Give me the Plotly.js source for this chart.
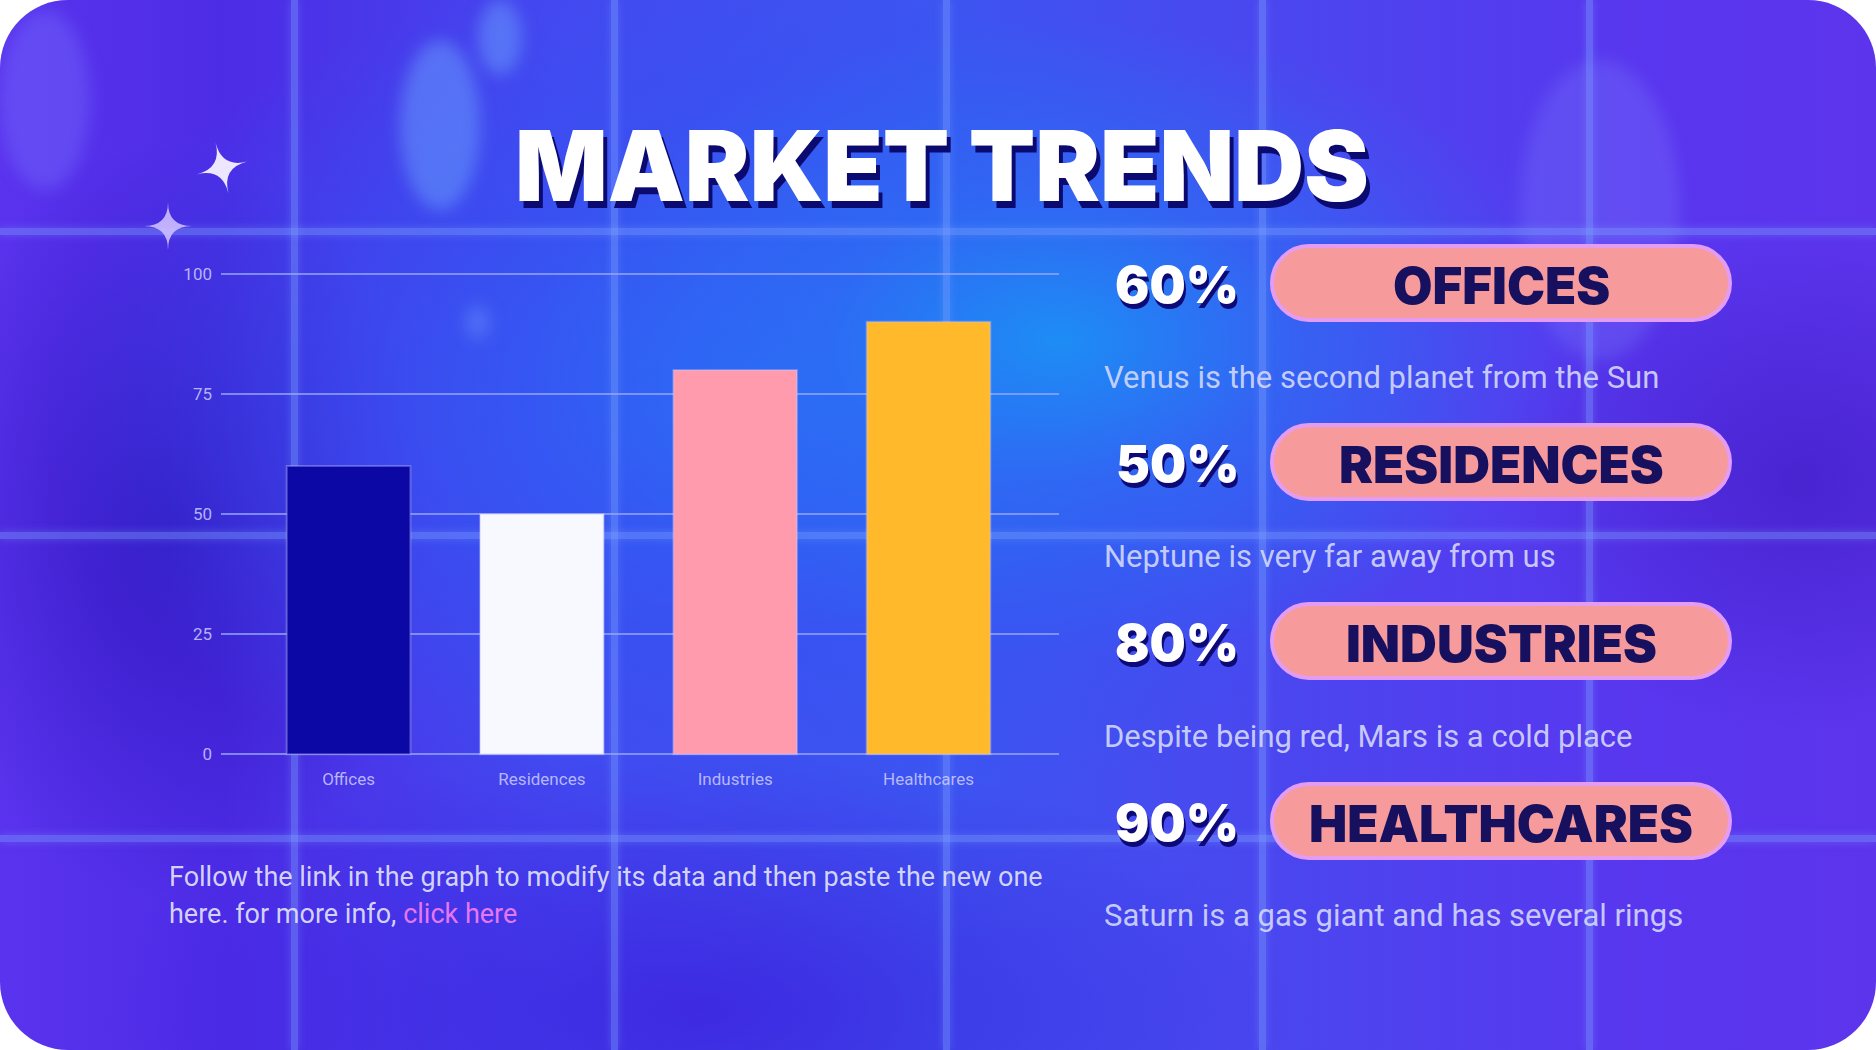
<!DOCTYPE html>
<html>
<head>
<meta charset="utf-8">
<script src="https://cdn.plot.ly/plotly-3.0.1.min.js"></script>
<style>
  html, body { margin:0; padding:0; background:#ffffff; width:1876px; height:1050px; overflow:hidden; }
  #frame {
    position:absolute; left:0; top:0; width:1876px; height:1050px;
    border-radius:68px; overflow:hidden;
    background:
      radial-gradient(ellipse 520px 320px at 1060px 340px, rgba(25,150,245,0.85) 0%, rgba(40,120,245,0.5) 45%, rgba(50,90,240,0) 100%),
      radial-gradient(ellipse 720px 440px at 760px 400px, rgba(45,100,245,0.95) 0%, rgba(50,85,242,0.55) 55%, rgba(60,70,240,0) 100%),
      radial-gradient(ellipse 260px 380px at 170px 520px, rgba(45,20,185,0.75) 0%, rgba(60,30,210,0) 100%),
      radial-gradient(ellipse 300px 250px at 1800px 480px, rgba(60,25,190,0.6) 0%, rgba(80,40,230,0) 100%),
      radial-gradient(ellipse 600px 260px at 700px 1010px, rgba(60,30,220,0.75) 0%, rgba(70,40,230,0) 100%),
      linear-gradient(90deg, #5a33ee 0%, #4d2ce6 12%, #4448f0 30%, #3d55f1 50%, #4c45ef 70%, #5936ef 88%, #5c34ec 100%);
  }
  .blob { position:absolute; border-radius:50%; filter:blur(8px); }
  .vline { position:absolute; top:0; width:7px; height:1050px; background:rgba(125,160,255,0.42); box-shadow:0 0 8px rgba(125,160,255,0.35); }
  .hline { position:absolute; left:0; height:7px; width:1876px; background:rgba(125,160,255,0.42); box-shadow:0 0 8px rgba(125,160,255,0.35); }
  #chart { position:absolute; left:0; top:0; width:1876px; height:1050px; }
</style>
</head>
<body>
<div id="frame">
  <div class="blob" style="left:400px;top:40px;width:80px;height:170px;background:rgba(110,170,255,0.45);"></div>
  <div class="blob" style="left:478px;top:0px;width:44px;height:75px;background:rgba(110,170,255,0.45);"></div>
  <div class="blob" style="left:0px;top:10px;width:90px;height:180px;background:rgba(120,120,255,0.35);"></div>
  <div class="blob" style="left:1520px;top:60px;width:160px;height:300px;background:rgba(130,140,255,0.25);"></div>
  <div class="blob" style="left:465px;top:305px;width:25px;height:35px;background:rgba(120,160,255,0.35);"></div>
  <div class="vline" style="left:291px;"></div>
  <div class="vline" style="left:611px;"></div>
  <div class="vline" style="left:943px;"></div>
  <div class="vline" style="left:1259px;"></div>
  <div class="vline" style="left:1586px;"></div>
  <div class="hline" style="top:228px;"></div>
  <div class="hline" style="top:532px;"></div>
  <div class="hline" style="top:835px;"></div>
</div>
<div id="chart"></div>
<script>
// ---------- data ----------
const categories = ['Offices', 'Residences', 'Industries', 'Healthcares'];
const values = [60, 50, 80, 90];
const barColors = ['#0c08a6', '#f7f9ff', '#ff9bad', '#ffb92b'];
const yTickVals = [0, 25, 50, 75, 100];
const yTickText = ['0', '25', '50', '75', '100'];
const percentLabels = ['60%', '50%', '80%', '90%'];
const pillLabels = ['OFFICES', 'RESIDENCES', 'INDUSTRIES', 'HEALTHCARES'];
const descriptions = [
  'Venus is the second planet from the Sun',
  'Neptune is very far away from us',
  'Despite being red, Mars is a cold place',
  'Saturn is a gas giant and has several rings'
];
const titleText = 'MARKET TRENDS';
const footLine1 = 'Follow the link in the graph to modify its data and then paste the new one';
const footLine2a = 'here. for more info, ';
const footLine2b = 'click here';

// ---------- layout geometry (pixels) ----------
const W = 1876, H = 1050;
const M = { l: 221, r: 817, t: 269, b: 291 };
const PW = W - M.l - M.r, PH = H - M.t - M.b;
const px = X => (X - M.l) / PW;
const py = Y => (H - M.b - Y) / PH;

const rowY = [283, 462, 641, 821];
const descY = [377, 556, 736, 915];

const shapes = [];
const annotations = [];

// pills
function pillPath(x0, x1, yc, h) {
  const r = h / 2, k = 0.5523 * r;
  const a = x0 + r, b = x1 - r, top = yc - r, bot = yc + r;
  const P = (X, Y) => px(X) + ',' + py(Y);
  return 'M' + P(a, top) + ' L' + P(b, top) +
    ' C' + P(b + k, top) + ' ' + P(x1, yc - k) + ' ' + P(x1, yc) +
    ' C' + P(x1, yc + k) + ' ' + P(b + k, bot) + ' ' + P(b, bot) +
    ' L' + P(a, bot) +
    ' C' + P(a - k, bot) + ' ' + P(x0, yc + k) + ' ' + P(x0, yc) +
    ' C' + P(x0, yc - k) + ' ' + P(a - k, top) + ' ' + P(a, top) + ' Z';
}
rowY.forEach(function (y, i) {
  shapes.push({ type: 'path', xref: 'paper', yref: 'paper', path: pillPath(1272, 1730, y, 74),
    fillcolor: '#f79a9c', line: { color: '#e49cf3', width: 4 }, layer: 'above' });
  annotations.push({ xref: 'paper', yref: 'paper', x: px(1501), y: py(y + 2), xanchor: 'center', yanchor: 'middle',
    text: pillLabels[i], showarrow: false,
    font: { family: 'Inter, Roboto, "DejaVu Sans"', size: 51, weight: 900, color: '#16105e' } });
  annotations.push({ xref: 'paper', yref: 'paper', x: px(1177), y: py(y + 1), xanchor: 'center', yanchor: 'middle',
    text: percentLabels[i], showarrow: false,
    font: { family: 'Inter, Roboto, "DejaVu Sans"', size: 51, weight: 900, color: '#ffffff', shadow: '2px 5px 0px #0d0a78' } });
  annotations.push({ xref: 'paper', yref: 'paper', x: px(1102), y: py(descY[i]), xanchor: 'left', yanchor: 'middle',
    text: descriptions[i], showarrow: false,
    font: { family: 'Roboto, "DejaVu Sans"', size: 31, color: 'rgba(210,215,255,0.92)' } });
});

// title
annotations.push({ xref: 'paper', yref: 'paper', x: px(942), y: py(166), xanchor: 'center', yanchor: 'middle',
  text: titleText, showarrow: false,
  font: { family: 'Inter, Roboto, "DejaVu Sans"', size: 97, weight: 900, color: '#ffffff', shadow: '4px 7px 0px #0b0a70' } });

// footnote
annotations.push({ xref: 'paper', yref: 'paper', x: px(167), y: py(877), xanchor: 'left', yanchor: 'middle',
  text: footLine1, showarrow: false,
  font: { family: 'Roboto, "DejaVu Sans"', size: 27, color: 'rgba(220,222,255,0.95)' } });
annotations.push({ xref: 'paper', yref: 'paper', x: px(167), y: py(914), xanchor: 'left', yanchor: 'middle',
  text: footLine2a + '<span style="color:#f27cf2">' + footLine2b + '</span>', showarrow: false,
  font: { family: 'Roboto, "DejaVu Sans"', size: 27, color: 'rgba(220,222,255,0.95)' } });

// sparkles
function sparkle(cx, cy, R, rot) {
  const pts = [];
  for (let j = 0; j < 4; j++) {
    const ang = rot + j * Math.PI / 2;
    pts.push([cx + R * Math.cos(ang), cy + R * Math.sin(ang)]);
  }
  const P = p => px(p[0]) + ',' + py(p[1]);
  const C = [cx, cy];
  return 'M' + P(pts[0]) + ' Q' + P(C) + ' ' + P(pts[1]) + ' Q' + P(C) + ' ' + P(pts[2]) +
    ' Q' + P(C) + ' ' + P(pts[3]) + ' Q' + P(C) + ' ' + P(pts[0]) + ' Z';
}
shapes.push({ type: 'path', xref: 'paper', yref: 'paper', path: sparkle(222, 168, 26, -0.25),
  fillcolor: '#ece6ff', line: { width: 0 }, layer: 'below' });
shapes.push({ type: 'path', xref: 'paper', yref: 'paper', path: sparkle(168, 226, 24, 0),
  fillcolor: 'rgba(205,190,255,0.9)', line: { width: 0 }, layer: 'below' });

const trace = {
  type: 'bar', x: categories, y: values, width: 0.64,
  marker: { color: barColors, line: { color: 'rgba(200,200,255,0.35)', width: 2 } },
  hoverinfo: 'skip'
};

const tickFont = { family: 'Roboto, "DejaVu Sans"', size: 17, color: 'rgba(205,205,255,0.85)' };
const layout = {
  width: W, height: H,
  margin: M,
  paper_bgcolor: 'rgba(0,0,0,0)', plot_bgcolor: 'rgba(0,0,0,0)',
  showlegend: false,
  xaxis: { range: [-0.66, 3.675], showgrid: false, zeroline: false, showline: false, ticks: '',
    tickfont: tickFont, ticklabelstandoff: 8, fixedrange: true },
  yaxis: { range: [-1, 101], tickvals: yTickVals, ticktext: yTickText, showgrid: true,
    gridcolor: 'rgba(150,165,255,0.75)', gridwidth: 2, zeroline: false, showline: false, ticks: '',
    tickfont: tickFont, ticklabelstandoff: 8, fixedrange: true },
  shapes: shapes,
  annotations: annotations
};

Plotly.newPlot('chart', [trace], layout, { displayModeBar: false, staticPlot: true });
</script>
</body>
</html>
